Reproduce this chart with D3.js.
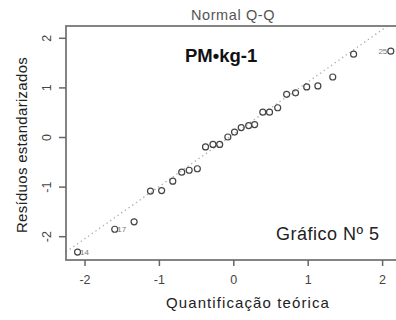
<!DOCTYPE html>
<html>
<head>
<meta charset="utf-8">
<script src="https://cdn.jsdelivr.net/npm/d3@7.9.0/dist/d3.min.js"></script>
<style>
  html, body { margin: 0; padding: 0; background: #fff; }
  svg { display: block; font-family: "Liberation Sans", Arial, sans-serif; }
</style>
</head>
<body>
<svg id="qq" width="396" height="320"></svg>
<script>
// Theoretical quantiles (x) and standardized residuals (y)
const theoretical = [-2.10, -1.60, -1.34, -1.12, -0.97, -0.82, -0.70, -0.60, -0.49, -0.38,
  -0.28, -0.19, -0.08, 0.01, 0.10, 0.20, 0.28, 0.39, 0.48, 0.59,
  0.71, 0.83, 0.98, 1.13, 1.33, 1.61, 2.11];
const residuals = [-2.31, -1.85, -1.70, -1.08, -1.07, -0.88, -0.70, -0.66, -0.63, -0.19,
  -0.14, -0.14, 0.01, 0.11, 0.20, 0.24, 0.26, 0.51, 0.51, 0.60,
  0.87, 0.90, 1.02, 1.04, 1.22, 1.68, 1.74];
// Labelled observations: index into the arrays above, and their text
const labelIndex = [0, 1, 26];
const labelText = ["14", "17", "25"];
// Reference line (qqline): intercept, slope
const qqLine = [0.07, 1.054];
const xTicks = [-2, -1, 0, 1, 2];
const yTicks = [-2, -1, 0, 1, 2];

const svg = d3.select("#qq");

// Plot box (right side runs off the picture, as in the original crop)
const box = { left: 66, top: 26, right: 402, bottom: 260 };

let x = d3.scaleLinear().domain([-2, 2]).range([85, 382.6]);
let y = d3.scaleLinear().domain([-2, 2]).range([236.7, 38.3]);

svg.append("clipPath").attr("id", "plotclip")
  .append("rect")
  .attr("x", box.left).attr("y", box.top)
  .attr("width", box.right - box.left).attr("height", box.bottom - box.top);

// Dotted reference line
let x0 = x.invert(box.left), x1 = x.invert(box.right);
svg.append("line")
  .attr("clip-path", "url(#plotclip)")
  .attr("x1", x(x0)).attr("y1", y(qqLine[0] + qqLine[1] * x0))
  .attr("x2", x(x1)).attr("y2", y(qqLine[0] + qqLine[1] * x1))
  .attr("stroke", "#aaa")
  .attr("stroke-width", 1.3)
  .attr("stroke-dasharray", "1.3,3.2");

// Box
svg.append("rect")
  .attr("x", box.left).attr("y", box.top)
  .attr("width", box.right - box.left).attr("height", box.bottom - box.top)
  .attr("fill", "none").attr("stroke", "#777").attr("stroke-width", 1.8);

// Ticks
svg.selectAll(".xtick").data(xTicks).enter().append("line")
  .attr("x1", (d) => x(d)).attr("x2", (d) => x(d))
  .attr("y1", box.bottom).attr("y2", box.bottom + 6)
  .attr("stroke", "#666").attr("stroke-width", 1.5);
svg.selectAll(".xlab").data(xTicks).enter().append("text")
  .attr("x", (d) => x(d)).attr("y", 284)
  .attr("text-anchor", "middle")
  .attr("font-size", 12.5).attr("fill", "#444")
  .text((d) => d);

svg.selectAll(".ytick").data(yTicks).enter().append("line")
  .attr("x1", box.left - 7).attr("x2", box.left)
  .attr("y1", (d) => y(d)).attr("y2", (d) => y(d))
  .attr("stroke", "#666").attr("stroke-width", 1.5);
svg.selectAll(".ylab").data(yTicks).enter().append("text")
  .attr("transform", (d) => `translate(51,${y(d)}) rotate(-90)`)
  .attr("text-anchor", "middle")
  .attr("font-size", 12.5).attr("fill", "#444")
  .text((d) => d);

// Points
svg.selectAll("circle").data(theoretical).enter().append("circle")
  .attr("cx", (d) => x(d))
  .attr("cy", (d, i) => y(residuals[i]))
  .attr("r", 3)
  .attr("fill", "none")
  .attr("stroke", "#444")
  .attr("stroke-width", 1.2);

// Point labels
svg.selectAll(".plab").data(labelIndex).enter().append("text")
  .attr("x", (d) => d === 26 ? x(theoretical[d]) - 3.5 : x(theoretical[d]) + 2.5)
  .attr("y", (d) => y(residuals[d]) + 3)
  .attr("text-anchor", (d) => d === 26 ? "end" : "start")
  .attr("font-size", 8).attr("fill", "#777")
  .text((d, i) => labelText[i]);

// Titles
svg.append("text")
  .attr("x", 233).attr("y", 20)
  .attr("text-anchor", "middle")
  .attr("font-size", 14.5).attr("letter-spacing", 0.6).attr("fill", "#555")
  .text("Normal Q-Q");

svg.append("text")
  .attr("x", 185).attr("y", 62)
  .attr("font-size", 18.5).attr("font-weight", "bold").attr("fill", "#111")
  .text("PM•kg-1");

svg.append("text")
  .attr("x", 276).attr("y", 240)
  .attr("font-size", 18).attr("letter-spacing", 0.5).attr("fill", "#222")
  .text("Gráfico Nº 5");

svg.append("text")
  .attr("x", 248).attr("y", 308)
  .attr("text-anchor", "middle")
  .attr("font-size", 15).attr("letter-spacing", 1.1).attr("fill", "#222")
  .text("Quantificação teórica");

svg.append("text")
  .attr("transform", "translate(27,145) rotate(-90)")
  .attr("text-anchor", "middle")
  .attr("font-size", 15).attr("letter-spacing", 0.3).attr("fill", "#222")
  .text("Resíduos estandarizados");
</script>
</body>
</html>
